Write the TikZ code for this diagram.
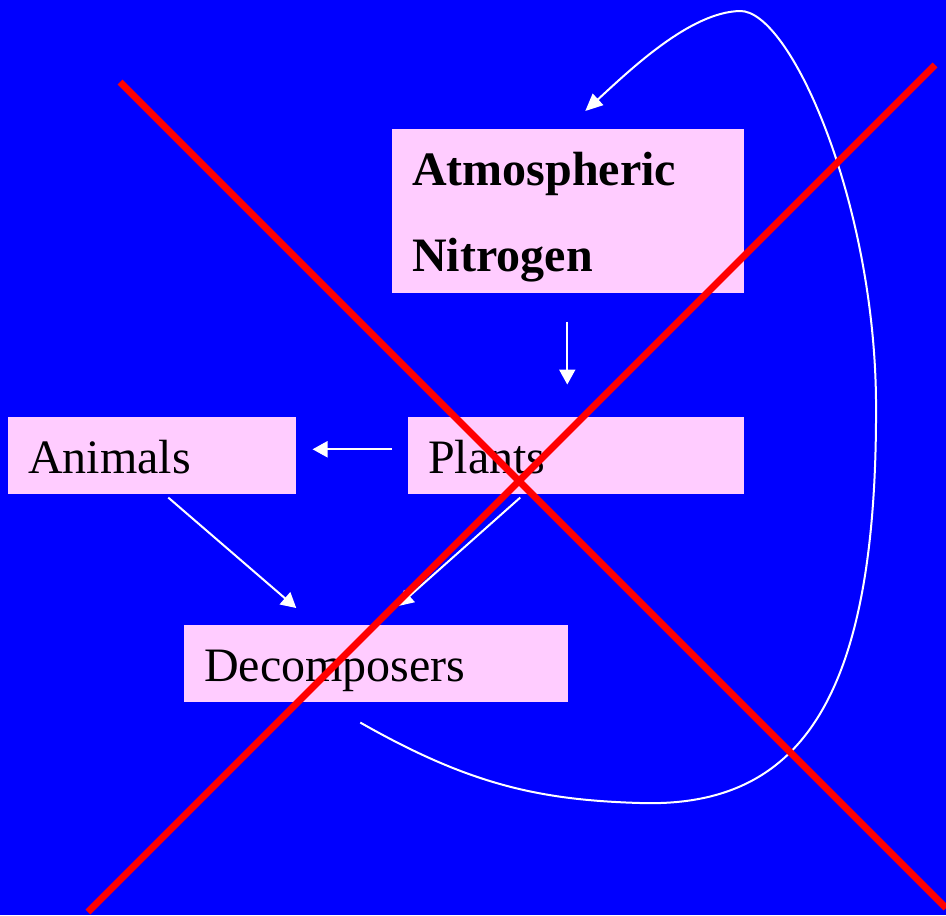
\documentclass[tikz,border=0pt]{standalone}
\usepackage{fontspec}
\setmainfont{Liberation Serif}
\usetikzlibrary{arrows.meta,calc}
\definecolor{bgblue}{HTML}{0000FF}
\definecolor{pinkbox}{HTML}{FFCCFF}
\definecolor{crossred}{HTML}{FF0000}
\begin{document}
\begin{tikzpicture}[x=0.75pt,y=-0.75pt,
  box/.style={fill=pinkbox, draw=none, inner sep=0pt, anchor=north west, minimum height=57.75pt},
  lbl/.style={anchor=base west, inner sep=0pt, text=black, font=\fontsize{36}{43}\selectfont},
  arr/.style={draw=white, line width=1.5pt, -{Triangle[length=11.25pt,width=12pt]}},
  curvearr/.style={draw=white, line width=1.5pt, -{Triangle[length=13pt,width=11.5pt]}},
  crossline/.style={draw=crossred, line width=5.25pt}]
\useasboundingbox (0,0) rectangle (946,915);
\fill[bgblue] (0,0) rectangle (946,915);
% boxes
\node[box, minimum width=264pt, minimum height=123pt] (atm) at (392,129) {};
\node[box, minimum width=216pt] (animals) at (8,417) {};
\node[box, minimum width=252pt] (plants) at (408,417) {};
\node[box, minimum width=288pt] (decomp) at (184,625) {};
% texts
\node[lbl, font=\fontsize{36}{43}\selectfont\bfseries] (atmtexta) at (412,185) {Atmospheric};
\node[lbl, font=\fontsize{36}{43}\selectfont\bfseries] (atmtextb) at (412,271) {Nitrogen};
\node[lbl] (animalstext) at (28,473) {Animals};
\node[lbl] (plantstext) at (428,473) {Plants};
\node[lbl] (decomptext) at (204,681) {Decomposers};
% connectors
\draw[arr] ($(atm.south)+(-1,28)$) -- ($(atm.south)+(-1,91)$);
\draw[arr] ($(plants.west)+(-16,-6.5)$) -- ($(animals.east)+(16,-6.5)$);
\draw[arr] ($(animals.south)+(16,3)$) -- ($(decomp.north)+(-80,-17)$);
\draw[arr] ($(plants.south)+(-56,3)$) -- ($(decomp.north)+(22,-19)$);
\draw[curvearr] ($(decomp.south)+(-16,20)$) .. controls (470,785) and (540,800) .. (640,803)
  .. controls (800,808) and (878,700) .. (876,400)
  .. controls (874,200) and (790,10) .. (740,11)
  .. controls (690,12) and (630,70) .. ($(atm.north)+(17,-18)$);
% red cross
\draw[crossline] (120,82) -- (946,908);
\draw[crossline] (935,65) -- (88,912);
\end{tikzpicture}
\end{document}
